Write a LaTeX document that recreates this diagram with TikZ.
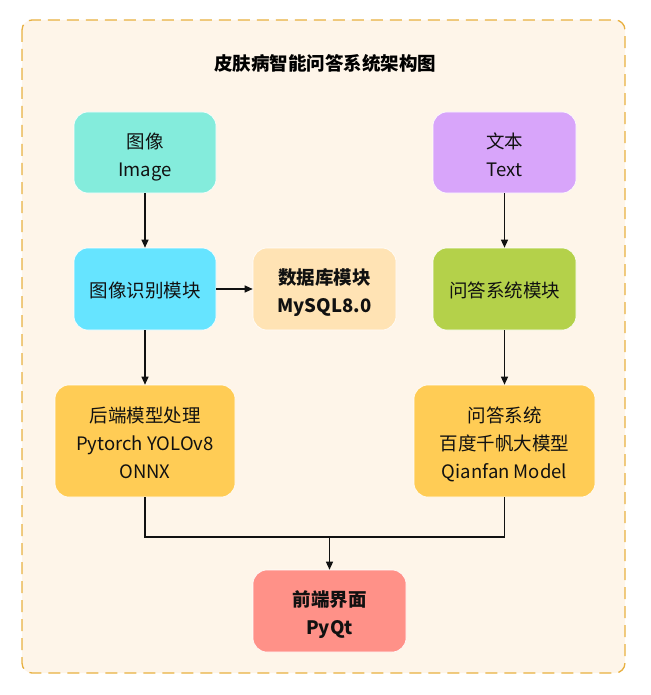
\documentclass[tikz,border=0pt]{standalone}
\usepackage{fontspec}
\setmainfont{Noto Sans CJK SC}
\usetikzlibrary{arrows.meta}
\definecolor{bgfill}{HTML}{FEF5E9}
\definecolor{bgline}{HTML}{E8B040}
\definecolor{cteal}{HTML}{84ECDC}
\definecolor{cpurple}{HTML}{D8A5FA}
\definecolor{ccyan}{HTML}{66E4FF}
\definecolor{cpeach}{HTML}{FFE3B4}
\definecolor{cgreen}{HTML}{B4D14A}
\definecolor{cyellow}{HTML}{FFCC55}
\definecolor{cred}{HTML}{FF9188}
\definecolor{ctext}{HTML}{111111}
\newcommand{\boxtext}[2]{\parbox{#1}{\centering\strut #2\strut}}
\tikzset{
  x=1pt,y=-1pt,
  box/.style={rounded corners=14pt, fill=#1, draw=white, line width=0.6pt, align=center,
    font=\fontsize{18.5}{28}\selectfont, text=ctext, inner sep=0pt},
  boldbox/.style={box=#1, font=\fontsize{18.5}{28}\selectfont\bfseries},
  lbl/.style={inner sep=0pt, align=center, font=\fontsize{18.5}{28}\selectfont, text=ctext},
  boldlbl/.style={lbl, font=\fontsize{18.5}{28}\selectfont\bfseries},
  conn/.style={line width=1.2pt, draw=ctext},
  arr/.style={conn, -{Triangle[length=8pt,width=7pt]}}
}
\begin{document}
\begin{tikzpicture}
\useasboundingbox (0,0) rectangle (650,695);
\draw[bgline, fill=bgfill, line width=1.3pt, dash pattern=on 12pt off 7pt, rounded corners=10pt]
  (22,20) rectangle (625,673);
\node[font=\fontsize{18.5}{20}\selectfont\bfseries] (title) at (325,63) {皮肤病智能问答系统架构图};
\node[box=cteal, minimum width=142pt, minimum height=81pt] (img) at (145,152.5) {};
\node[box=cpurple, minimum width=143pt, minimum height=81pt] (txt) at (504.5,152.5) {};
\node[box=ccyan, minimum width=142pt, minimum height=82pt] (rec) at (145,289) {};
\node[box=cpeach, minimum width=143pt, minimum height=82pt] (db) at (324.5,289) {};
\node[box=cgreen, minimum width=143pt, minimum height=82pt] (qa) at (504.5,289) {};
\node[box=cyellow, minimum width=180pt, minimum height=112pt] (back) at (145,441) {};
\node[box=cyellow, minimum width=181pt, minimum height=112pt] (llm) at (504.5,441) {};
\node[box=cred, minimum width=153pt, minimum height=82pt] (front) at (329.5,611) {};
\node[lbl] (imgT) at ([yshift=-4pt]img.center) {\boxtext{140pt}{图像\\Image}};
\node[lbl] (txtT) at ([yshift=-4pt]txt.center) {\boxtext{140pt}{文本\\Text}};
\node[lbl] (recT) at ([yshift=-3pt]rec.center) {\boxtext{140pt}{图像识别模块}};
\node[boldlbl] (dbT) at ([yshift=-4pt]db.center) {\boxtext{140pt}{数据库模块\\MySQL8.0}};
\node[lbl] (qaT) at ([yshift=-3pt]qa.center) {\boxtext{140pt}{问答系统模块}};
\node[lbl] (backT) at ([yshift=-4pt]back.center) {\boxtext{178pt}{后端模型处理\\Pytorch YOLOv8\\ONNX}};
\node[lbl] (llmT) at ([yshift=-4pt]llm.center) {\boxtext{178pt}{问答系统\\百度千帆大模型\\Qianfan Model}};
\node[boldlbl] (frontT) at ([yshift=-4pt]front.center) {\boxtext{150pt}{前端界面\\PyQt}};
\coordinate (j) at (329.5,537);
\draw[arr] (img) -- (rec);
\draw[arr] (txt) -- (qa);
\draw[arr] (rec) -- (db);
\draw[arr] (rec) -- (back);
\draw[arr] (qa) -- (llm);
\draw[conn] (back.south) |- (j) -| (llm.south);
\draw[arr] (j) -- (front);
\end{tikzpicture}
\end{document}
